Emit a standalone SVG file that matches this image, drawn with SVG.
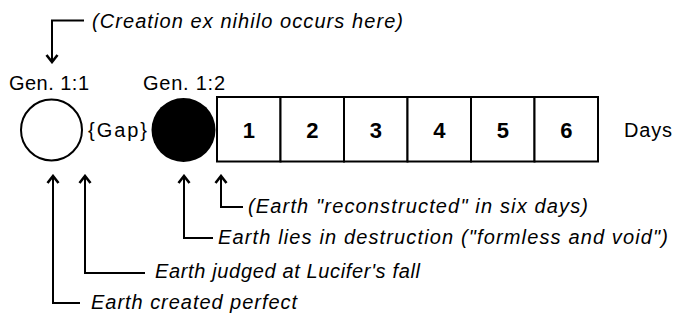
<svg xmlns="http://www.w3.org/2000/svg" width="673" height="320" viewBox="0 0 673 320">
<style>
  text { font-family: "Liberation Sans", Arial, sans-serif; fill: #000; }
  .lbl { font-size: 20px; }
  .it { font-size: 20px; font-style: italic; }
  .num { font-size: 22px; font-weight: bold; text-anchor: middle; }
  .conn { fill: none; stroke: #000; stroke-width: 2; }
  .cell { fill: #fff; stroke: #000; stroke-width: 2; }
</style>
<defs>
  <marker id="arr" markerUnits="userSpaceOnUse" viewBox="-10 -8 12 16" markerWidth="12" markerHeight="16" refX="0" refY="0" orient="auto">
    <path d="M-7,-5.5 L0,0 L-7,5.5" fill="none" stroke="#000" stroke-width="2.6"/>
  </marker>
</defs>
<rect width="673" height="320" fill="#fff"/>

<g id="note-top">
  <text class="it" x="92" y="28" textLength="311" lengthAdjust="spacing">(Creation ex nihilo occurs here)</text>
</g>

<g id="gen11">
  <text class="lbl" x="9" y="90" textLength="80" lengthAdjust="spacing">Gen. 1:1</text>
  <circle cx="51.5" cy="130" r="30.5" fill="#fff" stroke="#000" stroke-width="2"/>
</g>

<g id="gap">
  <text class="lbl" x="88" y="137" textLength="59" lengthAdjust="spacing">{Gap}</text>
</g>

<g id="gen12">
  <text class="lbl" x="143" y="90" textLength="82" lengthAdjust="spacing">Gen. 1:2</text>
  <circle cx="183.5" cy="130" r="32" fill="#000"/>
</g>

<g id="days">
  <rect class="cell" x="217" y="97" width="63.5" height="64.5"/>
  <rect class="cell" x="280.5" y="97" width="63.5" height="64.5"/>
  <rect class="cell" x="344" y="97" width="63.5" height="64.5"/>
  <rect class="cell" x="407.5" y="97" width="63.5" height="64.5"/>
  <rect class="cell" x="471" y="97" width="63.5" height="64.5"/>
  <rect class="cell" x="534.5" y="97" width="63.5" height="64.5"/>
  <text class="num" x="248.75" y="137.5">1</text>
  <text class="num" x="312.25" y="137.5">2</text>
  <text class="num" x="375.75" y="137.5">3</text>
  <text class="num" x="439.25" y="137.5">4</text>
  <text class="num" x="502.75" y="137.5">5</text>
  <text class="num" x="566.25" y="137.5">6</text>
  <text class="lbl" x="624" y="137" textLength="48" lengthAdjust="spacing">Days</text>
</g>

<g id="note-reconstructed">
  <text class="it" x="248" y="213" textLength="340" lengthAdjust="spacing">(Earth "reconstructed" in six days)</text>
</g>
<g id="note-destruction">
  <text class="it" x="218" y="244" textLength="450" lengthAdjust="spacing">Earth lies in destruction ("formless and void")</text>
</g>
<g id="note-judged">
  <text class="it" x="155" y="278" textLength="265" lengthAdjust="spacing">Earth judged at Lucifer's fall</text>
</g>
<g id="note-perfect">
  <text class="it" x="91" y="309" textLength="206" lengthAdjust="spacing">Earth created perfect</text>
</g>

<g id="connectors">
  <path class="conn" d="M84,20.5 H52 V62" marker-end="url(#arr)"/>
  <path class="conn" d="M80,303 H53 V176" marker-end="url(#arr)"/>
  <path class="conn" d="M145,273 H85 V176" marker-end="url(#arr)"/>
  <path class="conn" d="M213,238 H184 V176" marker-end="url(#arr)"/>
  <path class="conn" d="M243,207 H221 V176" marker-end="url(#arr)"/>
</g>
</svg>
